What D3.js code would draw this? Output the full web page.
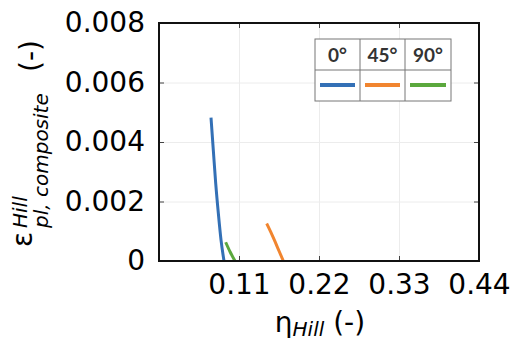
<!DOCTYPE html>
<html>
<head>
<meta charset="utf-8">
<script src="https://cdn.jsdelivr.net/npm/d3@7"></script>
<style>
  body { margin: 0; background: #fff; }
  text { font-family: "DejaVu Sans", sans-serif; fill: #000; }
  .grid line { stroke: #ececec; stroke-width: 1; }
  .grid path { display: none; }
  .leg text { font-family: Lato, "Open Sans", sans-serif; fill: #333; }
</style>
</head>
<body>
<div id="chart"></div>
<script>
var svgWidth = 520;
var svgHeight = 342;

var margin = { top: 23, right: 41, bottom: 81, left: 159 };
var width = svgWidth - margin.left - margin.right;
var height = svgHeight - margin.top - margin.bottom;

// data
var seriesNames = ["0°", "45°", "90°"];
var seriesColors = ["#3370b6", "#f1852f", "#5ba83d"];

var eta0 = [0.0715, 0.0747, 0.0780, 0.0816, 0.0853, 0.0894];
var eps0 = [0.00482, 0.00372, 0.00260, 0.00160, 0.00070, 0];

var eta45 = [0.1481, 0.1536, 0.1596, 0.1655, 0.1710];
var eps45 = [0.00126, 0.00098, 0.00065, 0.00031, 0];

var eta90 = [0.0917, 0.0977, 0.1045];
var eps90 = [0.00063, 0.00031, 0];

var xTicks = [0.11, 0.22, 0.33, 0.44];
var yTicks = [0, 0.002, 0.004, 0.006, 0.008];

var series = [
  { name: seriesNames[0], color: seriesColors[0], pts: eta0.map((x, i) => [x, eps0[i]]) },
  { name: seriesNames[1], color: seriesColors[1], pts: eta45.map((x, i) => [x, eps45[i]]) },
  { name: seriesNames[2], color: seriesColors[2], pts: eta90.map((x, i) => [x, eps90[i]]) }
];

var svg = d3.select("#chart").append("svg")
  .attr("width", svgWidth).attr("height", svgHeight);

var chartGroup = svg.append("g")
  .attr("transform", `translate(${margin.left}, ${margin.top})`);

var xScale = d3.scaleLinear().domain([0, 0.44]).range([0, width]);
var yScale = d3.scaleLinear().domain([0, 0.008]).range([height, 0]);

// grid
chartGroup.append("g").classed("grid", true)
  .attr("transform", `translate(0, ${height})`)
  .call(d3.axisBottom(xScale).tickValues(xTicks).tickSize(-height).tickFormat(""));
chartGroup.append("g").classed("grid", true)
  .call(d3.axisLeft(yScale).tickValues(yTicks).tickSize(-width).tickFormat(""));

// lines
var line = d3.line()
  .x(d => xScale(d[0]))
  .y(d => yScale(d[1]))
  .curve(d3.curveMonotoneX);

chartGroup.selectAll(".series")
  .data(series)
  .enter()
  .append("path")
  .attr("fill", "none")
  .attr("stroke", d => d.color)
  .attr("stroke-width", 3)
  .attr("d", d => line(d.pts));

// axes (inward ticks on all sides)
function styleAxis(g) {
  g.select(".domain").remove();
  g.selectAll(".tick line").attr("stroke", "#444").attr("stroke-width", 1);
  g.selectAll(".tick text").attr("font-size", "28px").attr("fill", "#000");
}

var xAxis = chartGroup.append("g")
  .attr("transform", `translate(0, ${height})`)
  .call(d3.axisBottom(xScale).tickValues(xTicks).tickSizeInner(-5).tickPadding(13).tickFormat(d3.format(".2f")));
styleAxis(xAxis);

var yAxis = chartGroup.append("g")
  .call(d3.axisLeft(yScale).tickValues(yTicks).tickSizeInner(-5).tickPadding(14)
    .tickFormat(d => d === 0 ? "0" : d3.format(".3f")(d)));
styleAxis(yAxis);

chartGroup.append("g")
  .call(d3.axisTop(xScale).tickValues(xTicks).tickSizeInner(-5).tickFormat(""))
  .call(styleAxis);
chartGroup.append("g")
  .attr("transform", `translate(${width}, 0)`)
  .call(d3.axisRight(yScale).tickValues(yTicks).tickSizeInner(-5).tickFormat(""))
  .call(styleAxis);

// frame
chartGroup.append("rect")
  .attr("width", width).attr("height", height)
  .attr("fill", "none").attr("stroke", "#111").attr("stroke-width", 2);

// legend table
var legX = 315, legY = 39, colW = [45, 45, 46], rowH = [31, 31];
var leg = svg.append("g").classed("leg", true).attr("transform", `translate(${legX}, ${legY})`);
var legW = d3.sum(colW), legH = d3.sum(rowH);
leg.append("rect").attr("width", legW).attr("height", legH)
  .attr("fill", "#fff").attr("stroke", "#777").attr("stroke-width", 1);
leg.append("line").attr("x1", 0).attr("x2", legW).attr("y1", rowH[0]).attr("y2", rowH[0])
  .attr("stroke", "#777");
var cx = 0;
series.forEach(function(s, i) {
  if (i > 0) {
    leg.append("line").attr("x1", cx).attr("x2", cx).attr("y1", 0).attr("y2", legH).attr("stroke", "#777");
  }
  leg.append("text")
    .attr("x", cx + colW[i] / 2).attr("y", 23)
    .attr("text-anchor", "middle")
    .attr("font-size", "19px")
    .attr("font-weight", "bold")
    .text(s.name);
  leg.append("line")
    .attr("x1", cx + 5).attr("x2", cx + colW[i] - 5)
    .attr("y1", rowH[0] + 15).attr("y2", rowH[0] + 15)
    .attr("stroke", s.color).attr("stroke-width", 4);
  cx += colW[i];
});

// x label
var xl = svg.append("text")
  .attr("x", 320).attr("y", 332)
  .attr("text-anchor", "middle")
  .attr("font-size", "28px");
xl.append("tspan").text("η");
xl.append("tspan").attr("font-size", "20px").attr("font-style", "italic").attr("dy", 4).text("Hill");
xl.append("tspan").attr("dy", -4).text(" (-)");

// y label
var yl = svg.append("g").attr("transform", "translate(32, 247) rotate(-90)");
yl.append("text").attr("x", 0).attr("y", 0).attr("font-size", "28px").text("ε");
yl.append("text").attr("x", 19).attr("y", -5).attr("font-size", "20px").attr("font-style", "italic").text("Hill");
yl.append("text").attr("x", 19).attr("y", 16).attr("font-size", "20px").attr("font-style", "italic").text("pl, composite");
yl.append("text").attr("x", 175).attr("y", 8).attr("font-size", "28px").text("(-)");
</script>
</body>
</html>
